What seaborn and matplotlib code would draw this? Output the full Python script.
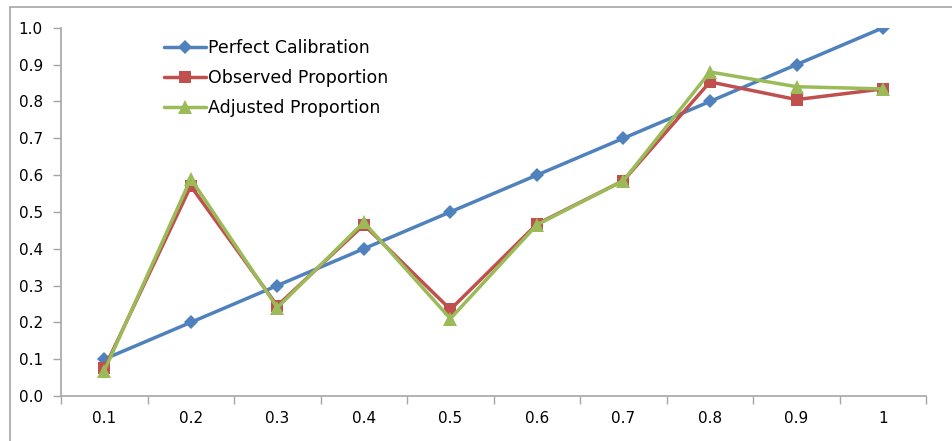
import pandas as pd
import matplotlib.pyplot as plt
from matplotlib.patches import Rectangle
import seaborn as sns

# Datos
bins = ['0.1', '0.2', '0.3', '0.4', '0.5', '0.6', '0.7', '0.8', '0.9', '1']
perfect = [0.1, 0.2, 0.3, 0.4, 0.5, 0.6, 0.7, 0.8, 0.9, 1.0]
observed = [0.075, 0.57, 0.245, 0.465, 0.235, 0.467, 0.585, 0.853, 0.805, 0.834]
adjusted = [0.068, 0.59, 0.24, 0.472, 0.21, 0.465, 0.585, 0.88, 0.84, 0.834]

sns.set_style('white')
plt.rcParams['font.family'] = ['DejaVu Sans']
plt.rcParams['text.color'] = 'black'

df = pd.DataFrame({'bin': bins, 'perfect': perfect,
                   'observed': observed, 'adjusted': adjusted})

fig = plt.figure(figsize=(9.53, 4.41), dpi=100)
ax = fig.add_axes([0.064, 0.102, 0.908, 0.835])

# marco exterior del gráfico
fig.patches.append(Rectangle((0.0105, -0.1), 1.2, 1.083, transform=fig.transFigure,
                             fill=False, edgecolor='#a6a6a6', linewidth=1.2))

sns.lineplot(data=df, x='bin', y='perfect', ax=ax, color='#4F81BD', linewidth=2.5,
             marker='D', markersize=7, markeredgewidth=0, label='Perfect Calibration', sort=False)
sns.lineplot(data=df, x='bin', y='observed', ax=ax, color='#C0504D', linewidth=2.5,
             marker='s', markersize=9, markeredgewidth=0, label='Observed Proportion', sort=False)
sns.lineplot(data=df, x='bin', y='adjusted', ax=ax, color='#9BBB59', linewidth=2.5,
             marker='^', markersize=10, markeredgewidth=0, label='Adjusted Proportion', sort=False)

ax.set_xlim(-0.5, len(bins) - 0.5)
ax.set_ylim(0, 1.0)
ax.set_yticks([i / 10 for i in range(11)])
ax.set_yticklabels([f'{i / 10:.1f}' for i in range(11)])
ax.set_xticks(range(len(bins)))
ax.set_xticklabels(bins)
ax.set_xticks([i - 0.5 for i in range(len(bins) + 1)], minor=True)
ax.tick_params(axis='x', which='major', bottom=True, length=0, pad=11, labelsize=11,
               labelcolor='black')
ax.tick_params(axis='x', which='minor', bottom=True, length=6, color='#a6a6a6', width=1,
               direction='out')
ax.tick_params(axis='y', left=True, length=6, color='#a6a6a6', width=1, direction='out',
               labelsize=11, pad=7, labelcolor='black')
ax.set_xlabel('')
ax.set_ylabel('')

for s in ['top', 'right']:
    ax.spines[s].set_visible(False)
for s in ['left', 'bottom']:
    ax.spines[s].set_color('#a6a6a6')
    ax.spines[s].set_linewidth(1.2)

leg = ax.legend(loc='upper left', bbox_to_anchor=(0.106, 1.0), frameon=False, fontsize=12.5,
                handlelength=2.4, handletextpad=0.15, labelspacing=0.68, borderaxespad=0.25)
for t in leg.get_texts():
    t.set_color('black')

plt.savefig('out.png', dpi=100)
